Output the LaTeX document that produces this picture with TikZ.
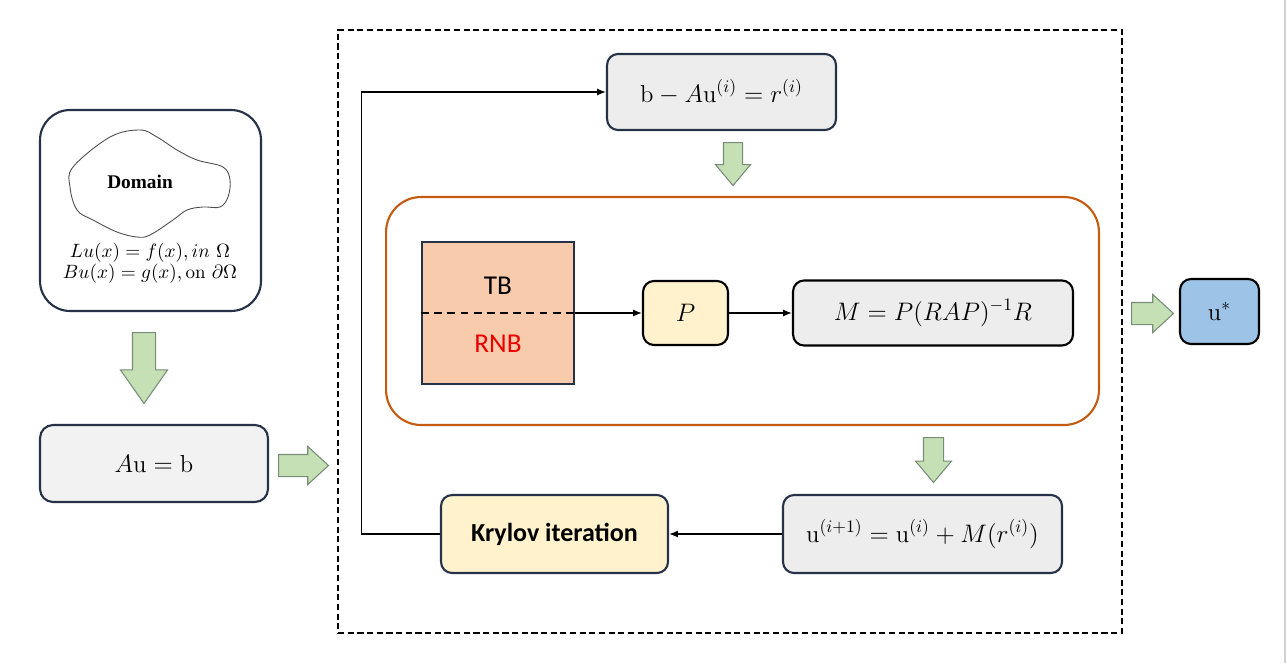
\documentclass[tikz,border=0pt]{standalone}
\usepackage{fontspec}
\usepackage{amsmath}
\usetikzlibrary{arrows.meta,shapes.arrows}
\newfontfamily\calibrifont{Carlito}
\newfontfamily\timesfont{Liberation Serif}
\definecolor{navyline}{RGB}{38,50,72}
\definecolor{boxgray}{RGB}{237,237,237}
\definecolor{lightgray}{RGB}{242,242,242}
\definecolor{paleyellow}{RGB}{255,242,204}
\definecolor{salmon}{RGB}{248,203,173}
\definecolor{skyblue}{RGB}{157,195,230}
\definecolor{rustline}{RGB}{197,90,17}
\definecolor{leafgreen}{RGB}{197,224,180}
\definecolor{leafline}{RGB}{120,140,120}
\definecolor{rnbred}{RGB}{235,0,0}
\tikzset{
	mathbox/.style={shape=rectangle, draw=navyline, line width=1.2pt, rounded corners=0.22cm, fill=boxgray, font=\fontsize{14}{16}\selectfont},
	blockarrow/.style={single arrow, draw=leafline, fill=leafgreen, line width=0.6pt, inner xsep=0pt, anchor=tail},
	wire/.style={line width=0.9pt, -{Latex[length=5pt,width=4pt]}},
}
\begin{document}
\begin{tikzpicture}[x=0.02cm, y=-0.02cm]
	\useasboundingbox (0,0) rectangle (1287,663);
	% Problem setup:
	\node[shape=rectangle, draw=navyline, line width=1.2pt, rounded corners=0.6cm, minimum width=4.42cm, minimum height=4.02cm] (domain) at (150.5,210.5){};
	\draw[gray!60!black, line width=0.5pt] plot[smooth cycle, tension=0.6] coordinates {(73,167) (110,137) (140,130) (157,137) (177,150) (197,160) (223,167) (230,180) (228,197) (220,207) (203,207) (187,210) (173,220) (150,235) (137,237) (117,232) (93,220) (77,210) (70,187)};
	\node[font=\timesfont\bfseries\fontsize{11}{13}\selectfont] (domainlabel) at (140,182){Domain};
	\node[align=center, inner sep=0pt, font=\fontsize{10.8}{10.3}\selectfont] (pde) at (150,263){$Lu(x)=f(x), in\ \Omega$\\$Bu(x)=g(x), \mathrm{on}\ \partial\Omega$};
	\node[blockarrow, rotate=-90, inner ysep=0.22cm, minimum height=1.42cm, minimum width=0.92cm, single arrow head extend=0.24cm, single arrow tip angle=70] (down1) at (144,332){};
	\node[mathbox, fill=lightgray, rounded corners=0.26cm, minimum width=4.56cm, minimum height=1.54cm] (system) at (154,463.5){$A\mathrm{u}=\mathrm{b}$};
	\node[blockarrow, inner ysep=0.21cm, minimum height=1cm, minimum width=0.74cm, single arrow head extend=0.16cm, single arrow tip angle=85] (right1) at (278,465.5){};
	% Iteration frame:
	\node[shape=rectangle, draw, line width=1pt, dash pattern={on 3.5pt off 2pt}, minimum width=15.68cm, minimum height=12.06cm] (frame) at (730,331.5){};
	\node[mathbox, minimum width=4.58cm, minimum height=1.52cm] (resid) at (721.5,92){$\mathrm{b}-A\mathrm{u}^{(i)}=r^{(i)}$};
	\node[blockarrow, rotate=-90, inner ysep=0.18cm, minimum height=0.86cm, minimum width=0.68cm, single arrow head extend=0.16cm, single arrow tip angle=80] (down2) at (733,142){};
	\node[shape=rectangle, draw=rustline, line width=1.2pt, rounded corners=0.7cm, minimum width=14.26cm, minimum height=4.56cm] (precond) at (742.5,311){};
	\node[shape=rectangle, draw=navyline, fill=salmon, line width=1.2pt, minimum width=3.04cm, minimum height=2.84cm] (basis) at (498,313){};
	\draw[line width=1pt, dash pattern={on 4.5pt off 3pt}] (basis.west) -- (basis.east);
	\node[font=\calibrifont\fontsize{15.5}{17}\selectfont] (tb) at (498,286){TB};
	\node[font=\calibrifont\fontsize{15.5}{17}\selectfont, text=rnbred] (rnb) at (498,344){RNB};
	\node[mathbox, draw=black, fill=paleyellow, minimum width=1.7cm, minimum height=1.28cm] (pmat) at (685.5,313){$P$};
	\node[mathbox, draw=black, minimum width=5.6cm, minimum height=1.3cm] (mmat) at (933,313){$M=P(RAP)^{-1}R$};
	\draw[wire] (basis.east) -- (pmat.west);
	\draw[wire] (pmat.east) -- (mmat.west);
	\node[blockarrow, rotate=-90, inner ysep=0.19cm, minimum height=0.9cm, minimum width=0.7cm, single arrow head extend=0.16cm, single arrow tip angle=80] (down3) at (933.5,437){};
	\node[mathbox, minimum width=5.58cm, minimum height=1.56cm] (update) at (922.5,534){$\mathrm{u}^{(i+1)}=\mathrm{u}^{(i)}+M(r^{(i)})$};
	\node[mathbox, fill=paleyellow, font=\calibrifont\bfseries\fontsize{14.8}{17}\selectfont, minimum width=4.54cm, minimum height=1.56cm] (krylov) at (554.5,534){Krylov iteration};
	\draw[wire] (update.west) -- (krylov.east);
	\draw[wire] (krylov.west) -- ++(-78.5,0) |- (resid.west);
	% Output:
	\node[blockarrow, inner ysep=0.21cm, minimum height=0.84cm, minimum width=0.74cm, single arrow head extend=0.16cm, single arrow tip angle=85] (right2) at (1131,313.5){};
	\node[mathbox, draw=black, fill=skyblue, minimum width=1.58cm, minimum height=1.3cm] (sol) at (1219.5,311.5){$\mathrm{u}^{*}$};
	\draw[gray!35, line width=1pt] (1285,0) -- (1285,663);
\end{tikzpicture}
\end{document}
